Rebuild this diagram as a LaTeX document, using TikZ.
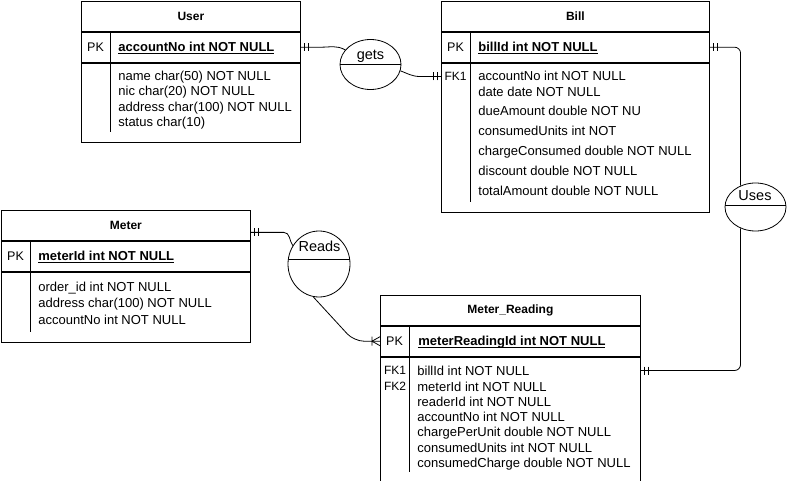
\documentclass[tikz,border=0pt]{standalone}
\usepackage{fontspec}
\setmainfont{Liberation Sans}
\usetikzlibrary{positioning,shapes.geometric}

\newcommand{\keyul}[1]{\underline{\smash{#1}}}

\tikzset{
  tbox/.style={draw, rectangle, anchor=north, inner sep=0pt},
  ttitle/.style={font=\fontsize{12}{14}\selectfont\bfseries},
  pklabel/.style={inner sep=0pt, font=\fontsize{12.5}{14}\selectfont},
  fklabel/.style={inner sep=0pt, font=\fontsize{12}{14}\selectfont},
  keyname/.style={anchor=west, inner sep=0pt, text height=9pt, text depth=0pt, font=\fontsize{13}{15}\selectfont\bfseries},
  attr/.style={anchor=west, inner sep=0pt, text height=9pt, text depth=0pt, font=\fontsize{13}{15}\selectfont},
  relation/.style={draw, ellipse, inner sep=0pt,
    path picture={\draw ([yshift=#1]path picture bounding box.west) -- ([yshift=#1]path picture bounding box.east);}},
  rellabel/.style={inner sep=0pt, font=\fontsize{14.5}{16}\selectfont},
  mandone/.pic={\draw (4,-4) -- (4,4) (8,-4) -- (8,4);},
  onemany/.pic={\draw (8,-4.5) -- (8,4.5) (0,-4.5) -- (8,0) -- (0,4.5);}
}

\begin{document}
\begin{tikzpicture}[x=1pt, y=-1pt, line width=0.8pt]
  \useasboundingbox (0,0) rectangle (787,481);

  % tables
  \node[tbox, ttitle, minimum width=219pt, minimum height=30pt, anchor=north west] (userTitle) at (81,1) {User};
  \node[tbox, minimum width=219pt, minimum height=30pt, below=0pt of userTitle] (userKey) {};
  \node[tbox, minimum width=219pt, minimum height=79pt, below=0pt of userKey] (userBody) {};

  \node[tbox, ttitle, minimum width=268pt, minimum height=30pt, anchor=north west] (billTitle) at (441,1) {Bill};
  \node[tbox, minimum width=268pt, minimum height=30pt, below=0pt of billTitle] (billKey) {};
  \node[tbox, minimum width=268pt, minimum height=149pt, below=0pt of billKey] (billBody) {};

  \node[tbox, ttitle, minimum width=249pt, minimum height=30pt, anchor=north west] (meterTitle) at (1,210) {Meter};
  \node[tbox, minimum width=249pt, minimum height=30.5pt, below=0pt of meterTitle] (meterKey) {};
  \node[tbox, minimum width=249pt, minimum height=69.5pt, below=0pt of meterKey] (meterBody) {};

  \node[tbox, ttitle, minimum width=260pt, minimum height=30pt, anchor=north west] (mrTitle) at (380,295) {Meter\_Reading};
  \node[tbox, minimum width=260pt, minimum height=30pt, below=0pt of mrTitle] (mrKey) {};
  \node[tbox, minimum width=260pt, minimum height=125pt, below=0pt of mrKey] (mrBody) {};

  \foreach \tb in {user,bill,meter,mr} {
    \draw ([xshift=29.5pt]\tb Key.north west) -- ([xshift=29.5pt,yshift=10pt]\tb Body.south west);
    \node[pklabel] (\tb PK) at ([xshift=14.5pt]\tb Key.west) {PK};
  }

  % keys
  \node[keyname] (userKeyName) at ([xshift=37pt]userKey.west) {\keyul{accountNo int NOT NULL}};
  \node[keyname] (billKeyName) at ([xshift=37pt]billKey.west) {\keyul{billId int NOT NULL}};
  \node[keyname] (meterKeyName) at ([xshift=37pt]meterKey.west) {\keyul{meterId int NOT NULL}};
  \node[keyname] (mrKeyName) at ([xshift=38pt]mrKey.west) {\keyul{meterReadingId int NOT NULL}};

  % attributes
  \foreach \txt/\yy [count=\i] in {{name char(50) NOT NULL}/76, {nic char(20) NOT NULL}/91.5,
      {address char(100) NOT NULL}/107, {status char(10)}/122}
    \node[attr] (userAttr\i) at (118,\yy) {\txt};
  \foreach \txt/\yy [count=\i] in {{accountNo int NOT NULL}/76.5, {date date NOT NULL}/92,
      {dueAmount double NOT NU}/111.5, {consumedUnits int NOT}/131,
      {chargeConsumed double NOT NULL}/151.5, {discount double NOT NULL}/171.5,
      {totalAmount double NOT NULL}/191.5}
    \node[attr] (billAttr\i) at (478,\yy) {\txt};
  \foreach \txt/\yy [count=\i] in {{order\_id int NOT NULL}/287, {address char(100) NOT NULL}/302.5,
      {accountNo int NOT NULL}/319.5}
    \node[attr] (meterAttr\i) at (38,\yy) {\txt};
  \foreach \txt/\yy [count=\i] in {{billId int NOT NULL}/370.5, {meterId int NOT NULL}/386.5,
      {readerId int NOT NULL}/401.5, {accountNo int NOT NULL}/417,
      {chargePerUnit double NOT NULL}/432, {consumedUnits int NOT NULL}/447.5,
      {consumedCharge double NOT NULL}/462.5}
    \node[attr] (mrAttr\i) at (417,\yy) {\txt};

  \node[fklabel] (billFK1) at (455.5,76.5) {FK1};
  \node[fklabel] (mrFK1) at (395,370.5) {FK1};
  \node[fklabel] (mrFK2) at (395,386.5) {FK2};

  % relations
  \node[relation=0pt, minimum width=61pt, minimum height=50pt] (gets) at (370.5,64.5) {};
  \node[rellabel] (getsText) at (370.5,56) {gets};
  \node[relation=2pt, minimum width=61pt, minimum height=48pt] (uses) at (755.5,207) {};
  \node[rellabel] (usesText) at (755,196) {Uses};
  \node[relation=5pt, minimum width=62pt, minimum height=66pt] (reads) at (319,264) {};
  \node[rellabel] (readsText) at (319.5,246.5) {Reads};

  % connectors
  \coordinate (billFKIn) at (billFK1 -| billBody.west);
  \coordinate (mrIn) at (mrAttr1 -| mrBody.east);
  \coordinate (mrPKIn) at (mrKey.west);
  \coordinate (meterOut) at ([yshift=-7pt]meterTitle.east);

  \draw (userKey.east) -- ++(20,0) to[out=0,in=150] (gets.150);
  \pic at (userKey.east) {mandone};
  \draw (gets.-12) to[out=-20,in=180] ([xshift=-21pt]billFKIn) -- (billFKIn);
  \pic[rotate=180] at (billFKIn) {mandone};

  \draw[rounded corners=6pt] (billKey.east) -| (uses.125);
  \pic at (billKey.east) {mandone};
  \draw[rounded corners=6pt] (uses.235) |- (mrIn);
  \pic at (mrIn) {mandone};

  \draw (meterOut) -- ++(33,0) to[out=0,in=125] (reads.145);
  \pic at (meterOut) {mandone};
  \draw[rounded corners=10pt] (reads.260) -- ([xshift=-26pt]mrPKIn) -- (mrPKIn);
  \pic[rotate=180] at (mrPKIn) {onemany};
\end{tikzpicture}
\end{document}
